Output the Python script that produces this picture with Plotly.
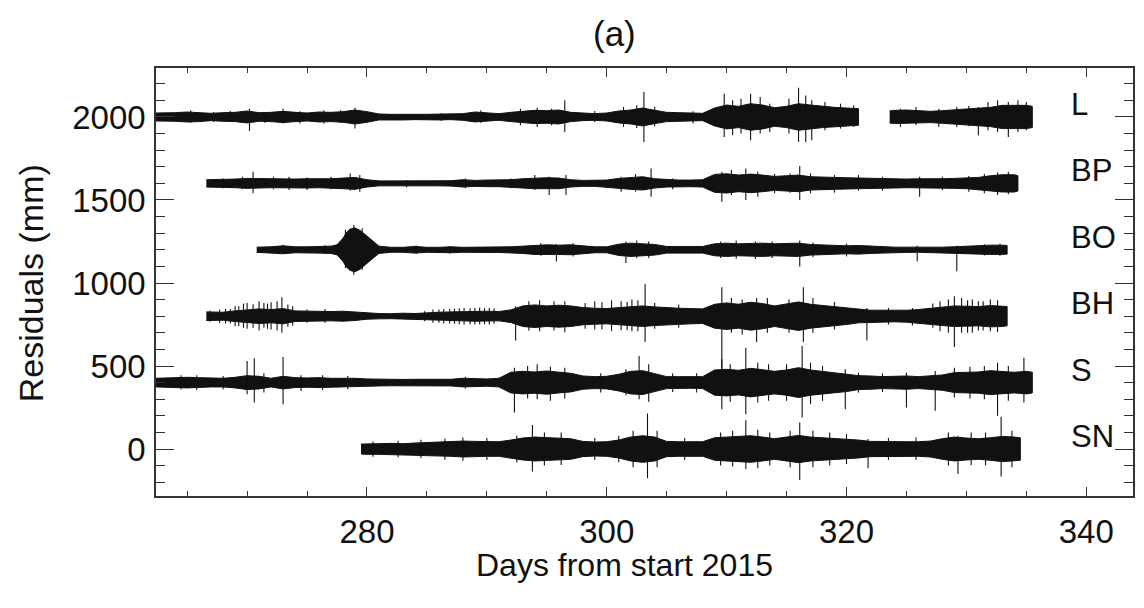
import plotly.graph_objects as go

# ---- Residual envelopes (half-width, mm) per station, sampled per day ----
# Each station: vertical offset, continuous segments (days, half-width of the dense band),
# and individual excursions (day, extent above, extent below) drawn as hairlines.

L_offset = 2000
L_days_a = [262.4, 263, 264, 265, 266, 267, 268, 269, 270, 271, 272, 273, 274, 275, 276, 277, 278, 279,
            280, 281, 282, 283, 284, 285, 286, 287, 288, 289, 290, 291, 292, 293, 294, 295, 296, 297,
            298, 299, 300, 301, 302, 303, 304, 305, 306, 307, 308, 309, 310, 311, 312, 313, 314, 315,
            316, 317, 318, 319, 320, 321.0]
L_amp_a = [24, 24, 26, 30, 28, 22, 26, 28, 36, 26, 28, 34, 28, 24, 30, 28, 32, 42,
           32, 18, 16, 18, 16, 16, 18, 16, 20, 30, 24, 20, 28, 36, 40, 38, 42, 28,
           22, 20, 24, 36, 42, 54, 40, 28, 26, 24, 22, 54, 72, 64, 80, 72, 56, 64,
           80, 72, 64, 58, 54, 50]
L_days_b = [323.6, 324, 325, 326, 327, 328, 329, 330, 331, 332, 333, 334, 335, 335.5]
L_amp_b = [36, 40, 42, 36, 34, 38, 44, 48, 52, 58, 70, 72, 70, 64]
L_spike_day = [265.3, 267.2, 268.6, 270.2, 271.5, 273.0, 274.4, 276.4, 277.8, 279.0, 286.2, 289.5,
               292.8, 294.2, 295.4, 296.5, 299.0, 301.4, 302.5, 303.1, 304.0, 307.2, 309.8, 310.5,
               311.2, 312.0, 312.8, 313.6, 315.2, 316.0, 316.6, 317.1, 318.2, 319.5, 320.6, 324.5,
               325.8, 327.7, 329.2, 330.2, 331.0, 331.8, 332.6, 333.5, 334.3, 335.0]
L_spike_hi = [40, 30, 36, 50, 30, 50, 34, 40, 40, 56, 24, 40,
              50, 56, 50, 100, 36, 60, 70, 150, 60, 34, 140, 100,
              110, 140, 120, 80, 110, 176, 130, 100, 90, 80, 70, 50,
              60, 50, 60, 66, 60, 90, 100, 90, 100, 90]
L_spike_lo = [36, 30, 30, 84, 36, 40, 40, 40, 36, 70, 24, 36,
              50, 60, 50, 90, 30, 60, 66, 150, 56, 40, 120, 110,
              100, 140, 100, 90, 100, 150, 150, 140, 80, 70, 60, 60,
              50, 60, 60, 56, 110, 80, 90, 120, 90, 80]

BP_offset = 1600
BP_days = [266.6, 267, 268, 269, 270, 271, 272, 273, 274, 275, 276, 277, 278, 279, 280, 281, 282, 283,
           284, 285, 286, 287, 288, 289, 290, 291, 292, 293, 294, 295, 296, 297, 298, 299, 300, 301,
           302, 303, 304, 305, 306, 307, 308, 309, 310, 311, 312, 313, 314, 315, 316, 317, 318, 319,
           320, 321, 322, 323, 324, 325, 326, 327, 328, 329, 330, 331, 332, 333, 334, 334.3]
BP_amp = [22, 22, 24, 26, 30, 28, 26, 28, 26, 28, 26, 28, 32, 36, 22, 15, 15, 15,
          16, 15, 15, 16, 22, 18, 20, 20, 22, 28, 32, 34, 32, 22, 18, 18, 20, 30,
          36, 40, 28, 22, 20, 20, 22, 54, 58, 50, 56, 50, 42, 46, 50, 40, 36, 36,
          34, 32, 30, 28, 28, 26, 28, 26, 28, 30, 32, 36, 46, 52, 52, 46]
BP_spike_day = [268.0, 269.6, 270.5, 272.2, 273.5, 275.0, 277.0, 278.6, 279.4, 283.3, 288.2, 292.0,
                294.0, 295.2, 296.6, 301.2, 302.4, 303.7, 305.5, 309.6, 310.4, 311.6, 312.6, 314.0,
                315.3, 316.1, 317.0, 319.0, 321.0, 323.0, 326.1, 328.0, 330.2, 331.5, 332.6, 333.5]
BP_spike_hi = [30, 40, 70, 40, 40, 36, 40, 60, 50, 20, 30, 30,
               50, 40, 50, 40, 56, 90, 30, 70, 80, 90, 70, 56,
               60, 104, 60, 50, 50, 40, 40, 40, 44, 56, 66, 70]
BP_spike_lo = [30, 36, 60, 36, 40, 40, 36, 44, 50, 24, 30, 30,
               40, 70, 70, 50, 50, 80, 36, 110, 70, 100, 80, 60,
               56, 100, 60, 56, 44, 44, 80, 40, 50, 60, 70, 66]

BO_offset = 1200
BO_days = [270.8, 271, 272, 273, 274, 275, 276, 277, 277.5, 278, 278.3, 278.6, 279, 279.4, 279.8,
           280.2, 280.6, 281, 282, 283, 284, 285, 286, 287, 288, 289, 290, 291, 292, 293, 294, 295,
           296, 297, 298, 299, 300, 301, 302, 303, 304, 305, 306, 307, 308, 309, 310, 311, 312, 313,
           314, 315, 316, 317, 318, 319, 320, 321, 322, 323, 324, 325, 326, 327, 328, 329, 330, 331,
           332, 333, 333.4]
BO_amp = [16, 16, 18, 24, 18, 18, 20, 22, 30, 70, 105, 125, 132, 118, 95,
          70, 45, 22, 15, 15, 20, 15, 15, 18, 15, 15, 16, 16, 18, 22, 28, 30,
          28, 30, 24, 18, 18, 34, 40, 36, 32, 20, 20, 22, 20, 36, 40, 36, 38, 40,
          36, 36, 40, 32, 28, 26, 24, 26, 22, 20, 16, 16, 15, 16, 16, 18, 22, 26,
          28, 28, 26]
BO_spike_day = [273.0, 276.5, 278.2, 278.9, 279.6, 284.1, 286.9, 294.5, 295.8, 297.2, 301.6, 302.5,
                303.5, 309.5, 310.8, 312.4, 313.8, 316.1, 317.2, 320.0, 325.9, 329.2, 331.5, 332.8]
BO_spike_hi = [30, 28, 120, 150, 130, 26, 22, 40, 34, 40, 50, 56,
               50, 50, 56, 50, 50, 56, 44, 36, 24, 24, 34, 36]
BO_spike_lo = [24, 26, 110, 150, 120, 24, 22, 36, 70, 40, 80, 50,
               50, 50, 54, 56, 50, 100, 44, 40, 70, 130, 34, 36]

BH_offset = 800
BH_days = [266.6, 267, 268, 269, 270, 271, 272, 273, 274, 275, 276, 277, 278, 279, 280, 281, 282, 283,
           284, 285, 286, 287, 288, 289, 290, 291, 292, 293, 294, 295, 296, 297, 298, 299, 300, 301,
           302, 303, 304, 305, 306, 307, 308, 309, 310, 311, 312, 313, 314, 315, 316, 317, 318, 319,
           320, 321, 322, 323, 324, 325, 326, 327, 328, 329, 330, 331, 332, 333, 333.4]
BH_amp = [26, 26, 24, 32, 40, 44, 40, 46, 32, 30, 28, 28, 30, 26, 18, 16, 15, 18,
          16, 22, 24, 26, 28, 30, 30, 28, 38, 62, 68, 62, 66, 62, 52, 48, 46, 52,
          56, 62, 56, 50, 48, 46, 44, 72, 80, 72, 84, 76, 62, 74, 86, 72, 64, 58,
          50, 40, 36, 36, 34, 36, 40, 48, 56, 62, 60, 58, 64, 62, 58]
BH_spike_day = [266.9, 267.7, 268.2, 268.6, 269.0, 269.3, 269.7, 270.0, 270.5, 271.0, 271.4, 271.7,
                272.0, 272.5, 272.9, 273.4, 273.8, 275.0, 276.5, 284.8, 285.5, 286.0, 286.4, 286.9,
                287.3, 287.7, 288.1, 288.6, 289.0, 289.4, 289.8, 290.2, 290.6, 292.4, 293.5, 294.4,
                295.6, 296.5, 298.2, 299.0, 299.6, 300.4, 301.2, 301.7, 302.1, 302.6, 303.2, 304.0,
                306.0, 309.6, 310.4, 311.3, 312.5, 313.4, 315.2, 316.4, 317.2, 319.0, 321.7, 323.5,
                325.5, 327.2, 327.8, 328.5, 329.0, 329.6, 330.1, 330.5, 331.0, 331.4, 332.0, 332.6]
BH_spike_hi = [34, 40, 44, 44, 60, 60, 76, 80, 72, 90, 80, 76,
               84, 90, 114, 70, 60, 40, 44, 30, 40, 40, 44, 44,
               46, 48, 50, 48, 50, 52, 48, 50, 46, 60, 90, 96,
               90, 90, 80, 90, 84, 96, 90, 86, 100, 96, 194, 80,
               70, 174, 110, 100, 110, 110, 100, 174, 110, 86, 50, 50,
               50, 76, 90, 100, 120, 110, 96, 100, 90, 90, 100, 96]
BH_spike_lo = [34, 40, 44, 44, 60, 60, 70, 76, 70, 86, 70, 76,
               80, 86, 100, 64, 56, 40, 40, 30, 40, 40, 44, 44,
               46, 48, 50, 48, 50, 50, 48, 50, 46, 146, 86, 90,
               86, 96, 76, 80, 80, 90, 84, 84, 90, 90, 156, 76,
               70, 326, 100, 110, 156, 100, 100, 156, 100, 80, 146, 50,
               56, 70, 90, 100, 186, 100, 100, 100, 86, 86, 90, 96]

S_offset = 400
S_days = [262.4, 263, 264, 265, 266, 267, 268, 269, 270, 271, 272, 273, 274, 275, 276, 277, 278, 279,
          280, 281, 282, 283, 284, 285, 286, 287, 288, 289, 290, 291, 292, 293, 294, 295, 296, 297,
          298, 299, 300, 301, 302, 303, 304, 305, 306, 307, 308, 309, 310, 311, 312, 313, 314, 315,
          316, 317, 318, 319, 320, 321, 322, 323, 324, 325, 326, 327, 328, 329, 330, 331, 332, 333,
          334, 335, 335.5]
S_amp = [26, 28, 30, 32, 30, 26, 26, 32, 42, 38, 26, 38, 30, 28, 30, 26, 28, 26,
         22, 20, 19, 19, 20, 19, 19, 20, 26, 24, 22, 26, 62, 68, 64, 70, 62, 56,
         40, 36, 38, 50, 68, 72, 54, 36, 36, 34, 36, 76, 80, 74, 86, 78, 68, 76,
         90, 76, 68, 62, 54, 42, 40, 36, 38, 40, 36, 40, 46, 60, 62, 64, 72, 66,
         62, 68, 62]
S_spike_day = [264.5, 265.8, 268.0, 270.0, 270.6, 271.4, 273.0, 274.5, 276.3, 278.4, 288.2, 292.3,
               293.4, 294.2, 295.3, 296.5, 299.5, 301.6, 302.7, 303.5, 305.5, 307.5, 309.6, 310.3,
               311.6, 312.6, 313.5, 315.0, 316.3, 317.0, 318.0, 319.9, 321.0, 323.0, 325.0, 327.4,
               329.0, 330.3, 331.5, 332.6, 333.5, 334.8]
S_spike_hi = [44, 44, 40, 130, 146, 56, 154, 44, 44, 40, 36, 90,
              100, 110, 96, 90, 56, 80, 160, 110, 56, 56, 140, 110,
              210, 120, 110, 110, 220, 120, 100, 80, 60, 56, 60, 70,
              90, 96, 100, 120, 100, 150]
S_spike_lo = [40, 44, 40, 70, 120, 60, 130, 50, 44, 40, 36, 180,
              96, 100, 110, 96, 60, 76, 100, 116, 56, 60, 160, 116,
              190, 120, 110, 110, 210, 130, 110, 160, 60, 56, 150, 170,
              90, 96, 100, 200, 110, 120]

SN_offset = 0
SN_days = [279.5, 280, 281, 282, 283, 284, 285, 286, 287, 288, 289, 290, 291, 292, 293, 294, 295, 296,
           297, 298, 299, 300, 301, 302, 303, 304, 305, 306, 307, 308, 309, 310, 311, 312, 313, 314,
           315, 316, 317, 318, 319, 320, 321, 322, 323, 324, 325, 326, 327, 328, 329, 330, 331, 332,
           333, 334, 334.5]
SN_amp = [30, 32, 32, 34, 32, 36, 40, 42, 44, 48, 46, 44, 44, 54, 66, 72, 68, 66,
          62, 46, 42, 44, 54, 72, 80, 72, 46, 44, 42, 44, 68, 72, 76, 80, 72, 62,
          72, 82, 72, 68, 62, 58, 54, 46, 44, 42, 44, 44, 48, 62, 72, 66, 62, 68,
          76, 72, 68]
SN_spike_day = [280.5, 282.6, 284.5, 286.5, 288.0, 290.0, 292.5, 293.8, 294.8, 296.2, 299.0, 301.0,
                302.2, 303.4, 304.2, 306.5, 309.5, 310.5, 311.6, 312.6, 313.6, 315.3, 316.1, 317.2,
                318.6, 320.0, 321.8, 323.5, 325.8, 328.5, 329.3, 330.4, 331.6, 332.9, 333.8]
SN_spike_hi = [46, 50, 56, 64, 70, 66, 80, 144, 100, 100, 66, 80,
               110, 214, 110, 66, 100, 110, 174, 116, 100, 110, 160, 110,
               100, 90, 60, 66, 70, 100, 80, 100, 100, 194, 110]
SN_spike_lo = [46, 50, 56, 64, 70, 66, 80, 136, 100, 96, 66, 80,
               110, 176, 110, 66, 100, 106, 120, 116, 100, 110, 186, 110,
               100, 90, 116, 66, 66, 100, 150, 96, 100, 166, 110]

station_names = ["L", "BP", "BO", "BH", "S", "SN"]
station_offsets = [L_offset, BP_offset, BO_offset, BH_offset, S_offset, SN_offset]
station_segments = [
    [(L_days_a, L_amp_a), (L_days_b, L_amp_b)],
    [(BP_days, BP_amp)],
    [(BO_days, BO_amp)],
    [(BH_days, BH_amp)],
    [(S_days, S_amp)],
    [(SN_days, SN_amp)],
]
station_spikes = [
    (L_spike_day, L_spike_hi, L_spike_lo),
    (BP_spike_day, BP_spike_hi, BP_spike_lo),
    (BO_spike_day, BO_spike_hi, BO_spike_lo),
    (BH_spike_day, BH_spike_hi, BH_spike_lo),
    (S_spike_day, S_spike_hi, S_spike_lo),
    (SN_spike_day, SN_spike_hi, SN_spike_lo),
]

FONT = "Arial, Liberation Sans, sans-serif"
INK = "#111111"

# plot area in pixels, used to place free text in paper coordinates
PX_L, PX_R, PX_T, PX_B = 156, 1135, 68, 496


def paper_x(px):
    return (px - PX_L) / (PX_R - PX_L)


def paper_y(py):
    return (PX_B - py) / (PX_B - PX_T)


fig = go.Figure()

for name, off, segs, spikes in zip(station_names, station_offsets, station_segments, station_spikes):
    # dense band for each continuous record
    for days, amp in segs:
        xs = list(days) + list(days[::-1])
        ys = [off + a for a in amp] + [off - a for a in amp[::-1]]
        fig.add_trace(go.Scatter(
            x=xs, y=ys, mode="lines", fill="toself",
            fillcolor=INK, line=dict(color=INK, width=1),
            hoverinfo="skip", showlegend=False,
        ))
    # individual excursions as hairlines
    sx, sy = [], []
    for d, hi, lo in zip(*spikes):
        sx += [d, d, None]
        sy += [off + hi, off - lo, None]
    fig.add_trace(go.Scatter(
        x=sx, y=sy, mode="lines", line=dict(color=INK, width=1.1),
        hoverinfo="skip", showlegend=False,
    ))
    # station label at the right
    fig.add_annotation(
        x=338.6, y=off + 75, text=name, showarrow=False,
        xanchor="left", yanchor="middle",
        font=dict(family=FONT, size=31, color=INK),
    )

axis_common = dict(
    showgrid=False, zeroline=False,
    showline=True, linecolor="#333333", linewidth=1.5,
    mirror="allticks", ticks="inside", tickcolor="#333333",
    tickfont=dict(family=FONT, size=33, color=INK),
)

fig.update_xaxes(
    range=[262.4, 343.9], tickvals=[280, 300, 320, 340],
    ticklen=9, tickwidth=1.2,
    minor=dict(dtick=5, tick0=0, ticks="inside", ticklen=5, tickcolor="#333333", tickwidth=1),
    ticklabelstandoff=6,
    **axis_common,
)
fig.update_yaxes(
    range=[-283, 2295], tickvals=[0, 500, 1000, 1500, 2000],
    ticklen=18, tickwidth=1.2,
    minor=dict(dtick=100, tick0=0, ticks="inside", ticklen=9, tickcolor="#333333", tickwidth=1),
    ticklabelstandoff=2,
    **axis_common,
)

# axis titles and panel label
fig.add_annotation(
    xref="paper", yref="paper", x=paper_x(625), y=paper_y(565),
    text="Days from start 2015", showarrow=False, xanchor="center", yanchor="middle",
    font=dict(family=FONT, size=32, color=INK),
)
fig.add_annotation(
    xref="paper", yref="paper", x=paper_x(31), y=paper_y(283),
    text="Residuals (mm)", showarrow=False, textangle=-90, xanchor="center", yanchor="middle",
    font=dict(family=FONT, size=34, color=INK),
)
fig.add_annotation(
    xref="paper", yref="paper", x=paper_x(615), y=paper_y(33),
    text="(a)", showarrow=False, xanchor="center", yanchor="middle",
    font=dict(family=FONT, size=35, color=INK),
)

fig.update_layout(
    width=1144, height=608,
    margin=dict(l=PX_L, r=1144 - PX_R, t=PX_T, b=608 - PX_B),
    paper_bgcolor="white", plot_bgcolor="white",
)

fig.write_html("out.html")
